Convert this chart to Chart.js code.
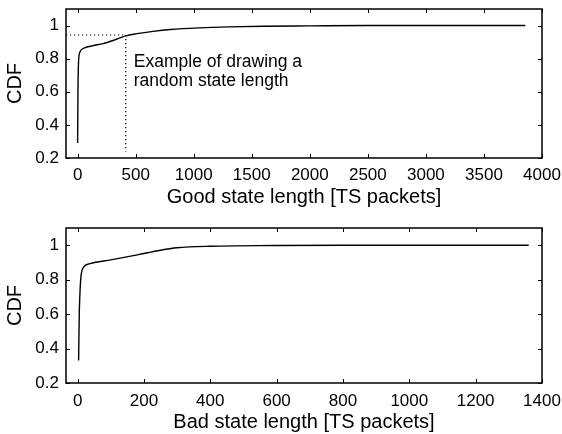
<!DOCTYPE html>
<html>
<head>
<meta charset="utf-8">
<script src="https://cdn.jsdelivr.net/npm/chart.js@4/dist/chart.umd.min.js"></script>
<style>
  html, body { margin: 0; padding: 0; background: #fff; }
  .wrap { position: relative; width: 562px; height: 217px; }
</style>
</head>
<body>
<div class="wrap"><canvas id="goodChart" width="562" height="217"></canvas></div>
<div class="wrap"><canvas id="badChart" width="562" height="217"></canvas></div>
<script>
const FONT_FAMILY = '"Liberation Sans", Arial, Helvetica, sans-serif';
const TICK_FONT   = { family: FONT_FAMILY, size: 17 };
const TITLE_FONT  = { family: FONT_FAMILY, size: 20 };
const INK         = '#000';

// good state length CDF
const goodLen = [0, 3, 8, 20, 60, 130, 220, 310, 415, 510, 650, 800, 1050, 1300, 1600, 2000, 2500, 3856];
const goodCdf = [0.29, 0.6, 0.78, 0.84, 0.865, 0.878, 0.891, 0.911, 0.938, 0.951, 0.965, 0.976, 0.986, 0.992, 0.996, 0.998, 1, 1];
const goodTicks = [0, 500, 1000, 1500, 2000, 2500, 3000, 3500, 4000];

// bad state length CDF
const badLen = [3, 5, 7, 10, 17, 37, 100, 180, 250, 300, 400, 600, 800, 1360];
const badCdf = [0.33, 0.6, 0.72, 0.815, 0.87, 0.893, 0.915, 0.944, 0.971, 0.985, 0.994, 0.998, 1, 1];
const badTicks = [0, 200, 400, 600, 800, 1000, 1200, 1400];

// example draw marked on the good-state plot
const exampleLen = 415;
const exampleCdf = 0.943;
const exampleText = ['Example of drawing a', 'random state length'];

const cdfTicks = [0.2, 0.4, 0.6, 0.8, 1];

const toPoints = (xs, ys) => xs.map((x, i) => ({ x, y: ys[i] }));

// box around the plot area with inward ticks on all four sides
const boxPlugin = {
  id: 'box',
  afterDraw(chart) {
    const { ctx, chartArea: a, scales: { x, y } } = chart;
    const len = 4;
    ctx.save();
    ctx.strokeStyle = INK;
    ctx.lineWidth = 1;
    ctx.beginPath();
    x.ticks.forEach(t => {
      const px = Math.round(x.getPixelForValue(t.value)) + 0.5;
      ctx.moveTo(px, a.bottom); ctx.lineTo(px, a.bottom - len);
      ctx.moveTo(px, a.top);    ctx.lineTo(px, a.top + len);
    });
    y.ticks.forEach(t => {
      const py = Math.round(y.getPixelForValue(t.value)) + 0.5;
      ctx.moveTo(a.left, py);  ctx.lineTo(a.left + len, py);
      ctx.moveTo(a.right, py); ctx.lineTo(a.right - len, py);
    });
    ctx.stroke();
    ctx.lineWidth = 1.5;
    ctx.strokeRect(a.left, a.top, a.right - a.left, a.bottom - a.top);
    ctx.restore();
  },
};

// two-line note next to the dotted guide
const notePlugin = {
  id: 'note',
  afterDraw(chart, args, opts) {
    if (!opts.lines) return;
    const { ctx, scales: { x, y } } = chart;
    ctx.save();
    ctx.fillStyle = INK;
    ctx.font = `17.5px ${FONT_FAMILY}`;
    ctx.textBaseline = 'alphabetic';
    const px = x.getPixelForValue(opts.x) + 8;
    const py = y.getPixelForValue(opts.y);
    opts.lines.forEach((line, i) => ctx.fillText(line, px, py + i * 19.5));
    ctx.restore();
  },
};

function buildCdfChart(canvasId, cfg) {
  const datasets = [
    { data: toPoints(cfg.xs, cfg.ys), borderColor: INK, borderWidth: 1.4,
      pointRadius: 0, cubicInterpolationMode: 'monotone' },
  ].concat(cfg.extra || []);

  return new Chart(document.getElementById(canvasId), {
    type: 'line',
    data: { datasets },
    options: {
      responsive: false,
      animation: false,
      events: [],
      layout: { padding: { top: cfg.top, right: 20, left: 0, bottom: 0 } },
      plugins: {
        legend: { display: false },
        tooltip: { enabled: false },
        note: cfg.note || {},
      },
      scales: {
        x: {
          type: 'linear',
          min: cfg.xMin, max: cfg.xMax,
          grid: { display: false, drawTicks: false },
          border: { display: false },
          afterBuildTicks: s => { s.ticks = cfg.xTicks.map(v => ({ value: v })); },
          ticks: { color: INK, font: TICK_FONT, padding: cfg.tickPad, maxRotation: 0, autoSkip: false, callback: v => String(v) },
          title: { display: true, text: cfg.xTitle, color: INK, font: TITLE_FONT, padding: { top: 0, bottom: cfg.titlePad } },
          afterFit: s => { s.height = cfg.xHeight; s.paddingLeft = 0; s.paddingRight = 0; },
        },
        y: {
          min: 0.2, max: 1.1,
          grid: { display: false, drawTicks: false },
          border: { display: false },
          afterBuildTicks: s => { s.ticks = cdfTicks.map(v => ({ value: v })); },
          ticks: { color: INK, font: TICK_FONT, padding: 7, callback: v => String(+v.toFixed(1)) },
          title: { display: true, text: 'CDF', color: INK, font: TITLE_FONT, padding: { top: 3, bottom: 0 } },
          afterFit: s => { s.width = 66; s.paddingTop = 0; s.paddingBottom = 0; },
        },
      },
    },
    plugins: [boxPlugin, notePlugin],
  });
}

const dotted = { borderColor: INK, borderWidth: 1.2, borderDash: [1.2, 2.8], pointRadius: 0, tension: 0 };

buildCdfChart('goodChart', {
  xs: goodLen, ys: goodCdf, xTicks: goodTicks,
  xMin: -100, xMax: 4000,
  xTitle: 'Good state length [TS packets]',
  top: 9, xHeight: 59, tickPad: 7, titlePad: 8,
  extra: [
    Object.assign({ data: toPoints([-100, exampleLen], [exampleCdf, exampleCdf]) }, dotted),
    Object.assign({ data: toPoints([exampleLen, exampleLen], [exampleCdf, 0.24]) }, dotted),
  ],
  note: { x: exampleLen, y: 0.75, lines: exampleText },
});

buildCdfChart('badChart', {
  xs: badLen, ys: badCdf, xTicks: badTicks,
  xMin: -35, xMax: 1400,
  xTitle: 'Bad state length [TS packets]',
  top: 11, xHeight: 51, tickPad: 8, titlePad: 0,
});
</script>
</body>
</html>
